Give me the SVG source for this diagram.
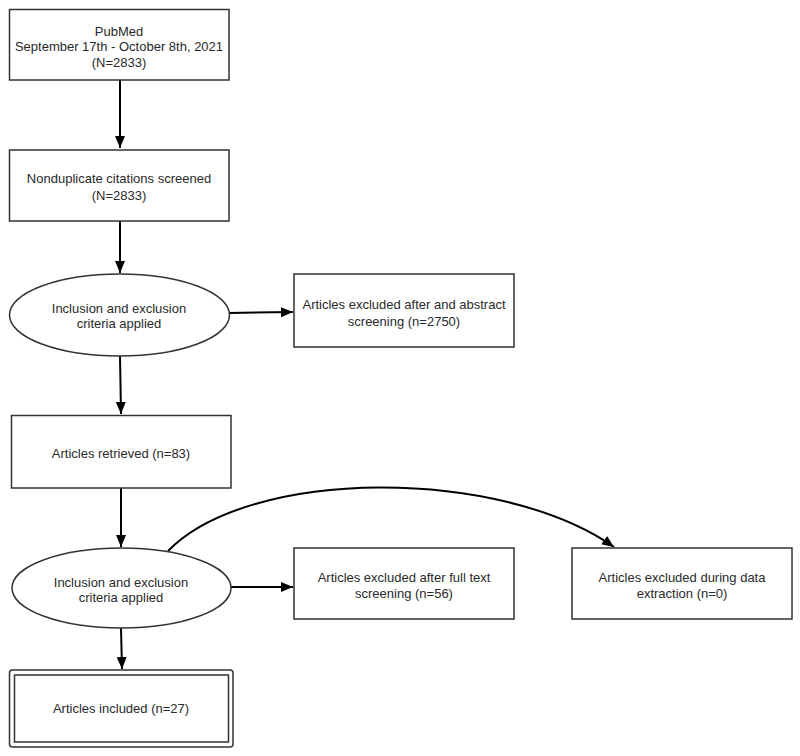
<svg xmlns="http://www.w3.org/2000/svg" width="800" height="756" viewBox="0 0 800 756">
<defs>
<style>
.box{fill:#fff;stroke:#333;stroke-width:1.5}
.t{font-family:"Liberation Sans",Arial,Helvetica,sans-serif;font-size:13px;fill:#2a2a2a;text-anchor:middle}
.c{fill:none;stroke:#000;stroke-width:2;marker-end:url(#ah)}
</style>
<marker id="ah" markerUnits="userSpaceOnUse" markerWidth="13" markerHeight="11" refX="12" refY="5" orient="auto">
<path d="M0,0 L12,5 L0,10 z" fill="#000"/>
</marker>
</defs>
<rect width="800" height="756" fill="#fff"/>
<g id="connectors">
<path class="c" d="M120,80 L120,148"/>
<path class="c" d="M120,221 L120,273"/>
<path class="c" d="M229,313 L293,312"/>
<path class="c" d="M120,356 L121,414"/>
<path class="c" d="M121,488 L121,547"/>
<path class="c" d="M231,587 L293,587"/>
<path class="c" d="M168,551 C250,467 500,467 614,547"/>
<path class="c" d="M121,628 L122,669"/>
</g>
<g id="pubmed">
<rect class="box" x="9.5" y="9.5" width="219.5" height="70.5"/>
<text class="t" x="119" y="35.5">PubMed</text>
<text class="t" x="119" y="51">September 17th - October 8th, 2021</text>
<text class="t" x="119" y="66.5">(N=2833)</text>
</g>
<g id="screened">
<rect class="box" x="9.5" y="150" width="219.5" height="71"/>
<text class="t" x="119" y="182.5">Nonduplicate citations screened</text>
<text class="t" x="119" y="199.5">(N=2833)</text>
</g>
<g id="criteria1">
<ellipse class="box" cx="119.5" cy="315" rx="110" ry="41"/>
<text class="t" x="119" y="312.5">Inclusion and exclusion</text>
<text class="t" x="119" y="327.5">criteria applied</text>
</g>
<g id="excluded1">
<rect class="box" x="294" y="274" width="220" height="73"/>
<text class="t" x="404" y="308.5">Articles excluded after and abstract</text>
<text class="t" x="404" y="325.5">screening (n=2750)</text>
</g>
<g id="retrieved">
<rect class="box" x="11.5" y="415.5" width="219.5" height="72.5"/>
<text class="t" x="121" y="457.5">Articles retrieved (n=83)</text>
</g>
<g id="criteria2">
<ellipse class="box" cx="121.5" cy="588" rx="109.5" ry="40"/>
<text class="t" x="121" y="586.5">Inclusion and exclusion</text>
<text class="t" x="121" y="601.5">criteria applied</text>
</g>
<g id="excluded2">
<rect class="box" x="294" y="548" width="220" height="71"/>
<text class="t" x="404" y="581.5">Articles excluded after full text</text>
<text class="t" x="404" y="597.5">screening (n=56)</text>
</g>
<g id="excluded3">
<rect class="box" x="572" y="548" width="220" height="71"/>
<text class="t" x="682" y="581.5">Articles excluded during data</text>
<text class="t" x="682" y="597.5">extraction (n=0)</text>
</g>
<g id="included">
<rect class="box" x="9.5" y="670" width="223.5" height="77" rx="3"/>
<rect class="box" x="14.5" y="675" width="214" height="67"/>
<text class="t" x="121" y="712.5">Articles included (n=27)</text>
</g>
</svg>
